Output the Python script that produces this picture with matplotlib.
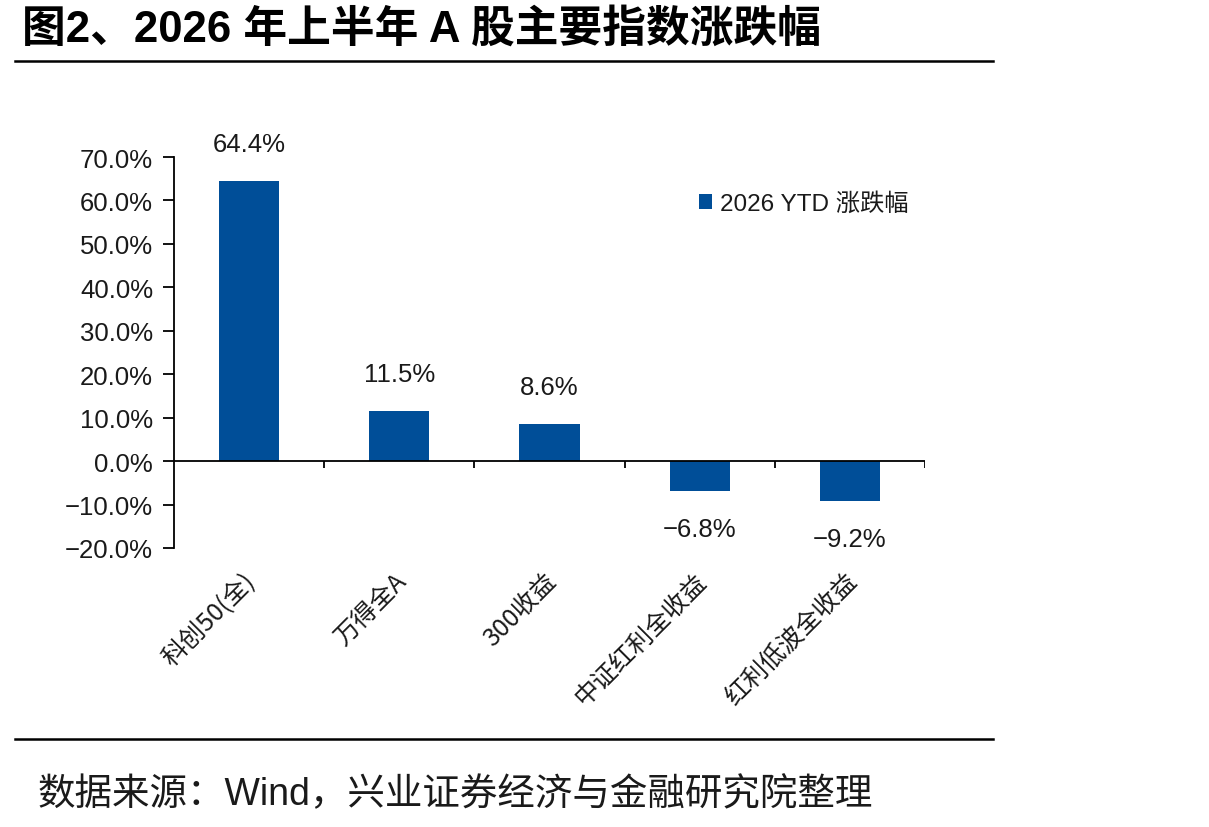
import matplotlib
matplotlib.use("Agg")
import matplotlib.pyplot as plt
import matplotlib.transforms as mtransforms
import numpy as np

plt.rcParams['font.family'] = ['Liberation Sans', 'Noto Sans CJK SC', 'DejaVu Sans']
plt.rcParams['axes.unicode_minus'] = True

# data
categories = ['科创50(全)', '万得全A', '300收益', '中证红利全收益', '红利低波全收益']
ytd_change = [64.4, 11.5, 8.6, -6.8, -9.2]
series_name = '2026 YTD 涨跌幅'
yticks = [-20, -10, 0, 10, 20, 30, 40, 50, 60, 70]

bar_color = '#004E98'
txt_color = '#1a1a1a'

fig = plt.figure(figsize=(12.09, 8.28), dpi=100)
ax = fig.add_axes([174 / 1209, 1 - 549 / 828, 751 / 1209, 391 / 828])

x = np.arange(len(categories))
bars = ax.bar(x, ytd_change, width=0.4, color=bar_color, label=series_name, zorder=2)

ax.set_xlim(-0.5, len(categories) - 0.5)
ax.set_ylim(-20, 70)
ax.set_yticks(yticks)
ax.set_yticklabels([f'{v:.1f}%'.replace('-', '\u2212') for v in yticks], fontsize=18.5,
                   color=txt_color)

for s in ['top', 'right', 'bottom']:
    ax.spines[s].set_visible(False)
ax.spines['left'].set_linewidth(1.3)
ax.tick_params(axis='y', direction='out', length=8, width=1.3, pad=7)

# zero line with boundary ticks
ax.axhline(0, color='black', lw=1.3, zorder=3)
bounds = np.arange(len(categories)) + 0.5
ax.vlines(bounds, -1.6, 0, color='black', lw=1.3, zorder=3)

ax.set_xticks(x)
ax.set_xticklabels(categories, rotation=45, ha='right', fontsize=18, color=txt_color,
                   family=['Noto Sans CJK SC', 'DejaVu Sans'])
ax.tick_params(axis='x', length=0, pad=14)
shift = mtransforms.ScaledTranslation(12 / 100, 0, fig.dpi_scale_trans)
for lbl in ax.get_xticklabels():
    lbl.set_transform(lbl.get_transform() + shift)

# value labels
for xi, v in zip(x, ytd_change):
    off = 8.5 if v >= 0 else -8.8
    ax.text(xi, v + off, f'{v:.1f}%'.replace('-', '\u2212'), ha='center', va='center',
            fontsize=18.5, color=txt_color)

leg = ax.legend(loc='upper left', bbox_to_anchor=(0.67, 0.965), frameon=False,
                handlelength=0.55, handleheight=0.55, handletextpad=0.3,
                prop={'family': ['Liberation Sans', 'Noto Sans CJK SC'], 'size': 17.5})
for t in leg.get_texts():
    t.set_color(txt_color)

# title and rules
fig.text(22 / 1209, 1 - 30 / 828, '图2、2026 年上半年 A 股主要指数涨跌幅', fontsize=31.5,
         fontweight='bold', ha='left', va='center',
         family=['Liberation Sans', 'Noto Sans CJK SC'])
fig.add_artist(plt.Line2D([15 / 1209, 993 / 1209], [1 - 62 / 828] * 2, color='black', lw=1.8))
fig.add_artist(plt.Line2D([15 / 1209, 993 / 1209], [1 - 740 / 828] * 2, color='black', lw=1.8))

fig.text(38 / 1209, 1 - 795 / 828, '数据来源：Wind，兴业证券经济与金融研究院整理', fontsize=27,
         ha='left', va='center', color=txt_color,
         family=['Liberation Sans', 'Noto Sans CJK SC'])

fig.savefig('out.png', dpi=100)
